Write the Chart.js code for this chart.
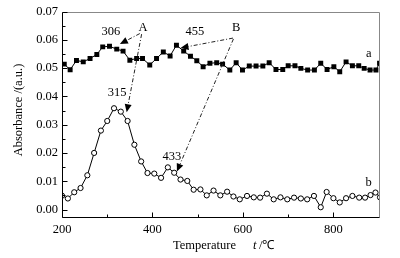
<!DOCTYPE html>
<html>
<head>
<meta charset="utf-8">
<script src="https://cdn.jsdelivr.net/npm/chart.js@4.4.1/dist/chart.umd.min.js"></script>
<style>
html, body { margin: 0; padding: 0; background: #fff; }
</style>
</head>
<body>
<canvas id="chart" width="400" height="258"></canvas>
<script>
// curve a (filled squares)
const temperatureA = [205, 218, 232, 247, 262, 277, 290, 305, 321, 335, 350, 365, 378, 394, 409, 424, 439, 453, 469, 484,
  498, 512, 527, 542, 555, 571, 585, 599, 614, 629, 644, 658, 673, 688, 700, 715, 728, 743, 758, 772,
  786, 801, 814, 828, 842, 856, 868, 881, 894, 902];
const absorbanceA = [0.0514, 0.0494, 0.0527, 0.0522, 0.0534, 0.0548, 0.0575, 0.0577, 0.0567, 0.0560, 0.0528, 0.0534, 0.0534, 0.0511, 0.0534, 0.0557, 0.0543, 0.0581, 0.0560, 0.0542,
  0.0526, 0.0505, 0.0517, 0.0519, 0.0514, 0.0493, 0.0519, 0.0493, 0.0507, 0.0507, 0.0507, 0.0519, 0.0495, 0.0495, 0.0508, 0.0508, 0.0499, 0.0493, 0.0493, 0.0517,
  0.0495, 0.0505, 0.0487, 0.0522, 0.0508, 0.0508, 0.0499, 0.0493, 0.0493, 0.0517];

// curve b (open circles)
const temperatureB = [200, 213, 227, 241, 256, 271, 286, 300, 315, 330, 345, 360, 375, 389, 404, 419, 434, 448, 462, 477,
  491, 506, 520, 535, 550, 565, 579, 593, 609, 624, 638, 653, 668, 683, 698, 713, 728, 742, 757, 772,
  785, 800, 814, 828, 842, 857, 870, 882, 893, 903];
const absorbanceB = [0.0049, 0.0039, 0.0061, 0.0076, 0.0121, 0.0200, 0.0279, 0.0313, 0.0358, 0.0346, 0.0313, 0.0229, 0.0170, 0.0129, 0.0127, 0.0112, 0.0149, 0.0130, 0.0106, 0.0101,
  0.0070, 0.0071, 0.0050, 0.0067, 0.0050, 0.0063, 0.0046, 0.0036, 0.0048, 0.0043, 0.0042, 0.0056, 0.0036, 0.0043, 0.0036, 0.0042, 0.0039, 0.0036, 0.0048, 0.0008,
  0.0062, 0.0040, 0.0025, 0.0040, 0.0048, 0.0042, 0.0042, 0.0051, 0.0060, 0.0043];

const xTicks = [200, 400, 600, 800];
const xMinorTicks = [300, 500, 700];
const yTicks = [0.00, 0.01, 0.02, 0.03, 0.04, 0.05, 0.06, 0.07];
const yMinorTicks = [0.005, 0.015, 0.025, 0.035, 0.045, 0.055, 0.065];

// peak labels and arrows, in data units
const notes = [
  { text: '306', x: 308, y: 0.0627 },
  { text: 'A', x: 379, y: 0.0641 },
  { text: '455', x: 494, y: 0.0627 },
  { text: 'B', x: 585, y: 0.0644 },
  { text: '315', x: 322, y: 0.0412 },
  { text: '433', x: 443, y: 0.0187 },
  { text: 'a', x: 878, y: 0.0552 },
  { text: 'b', x: 878, y: 0.0094 }
];
const arrows = [
  { from: [372, 0.0622], to: [328, 0.0585] },
  { from: [376, 0.0620], to: [343, 0.0344] },
  { from: [578, 0.0606], to: [462, 0.0571] },
  { from: [579, 0.0603], to: [454, 0.0134] }
];

const serif = '"Liberation Serif", "Times New Roman", serif';

function toPoints(xs, ys) {
  return xs.map((t, i) => ({ x: t, y: ys[i] }));
}

const decor = {
  id: 'decor',
  afterDraw(chart) {
    const { ctx, chartArea: a, scales: { x, y } } = chart;
    const L = Math.round(a.left) + 0.5, R = Math.round(a.right) - 0.5;
    const T = Math.round(a.top) + 0.5, B = Math.round(a.bottom) - 0.5;
    ctx.save();
    ctx.lineWidth = 1;
    // frame
    ctx.strokeStyle = '#888';
    ctx.beginPath();
    ctx.moveTo(L, T); ctx.lineTo(R, T); ctx.lineTo(R, B);
    ctx.stroke();
    ctx.strokeStyle = '#000';
    ctx.beginPath();
    ctx.moveTo(L, T); ctx.lineTo(L, B); ctx.lineTo(R, B);
    // inward ticks
    yTicks.forEach(v => { const p = Math.round(y.getPixelForValue(v)) + 0.5; ctx.moveTo(L, p); ctx.lineTo(L + 5, p); });
    yMinorTicks.forEach(v => { const p = Math.round(y.getPixelForValue(v)) + 0.5; ctx.moveTo(L, p); ctx.lineTo(L + 3, p); });
    xTicks.forEach(v => { const p = Math.round(x.getPixelForValue(v)) + 0.5; ctx.moveTo(p, B); ctx.lineTo(p, B - 5); });
    xMinorTicks.forEach(v => { const p = Math.round(x.getPixelForValue(v)) + 0.5; ctx.moveTo(p, B); ctx.lineTo(p, B - 3); });
    ctx.stroke();

    // arrows
    arrows.forEach(ar => {
      const x0 = x.getPixelForValue(ar.from[0]), y0 = y.getPixelForValue(ar.from[1]);
      const x1 = x.getPixelForValue(ar.to[0]), y1 = y.getPixelForValue(ar.to[1]);
      const ang = Math.atan2(y1 - y0, x1 - x0);
      const len = 8, half = 3.5;
      const bx = x1 - len * Math.cos(ang), by = y1 - len * Math.sin(ang);
      ctx.setLineDash([4, 2, 1, 2]);
      ctx.strokeStyle = '#222';
      ctx.beginPath();
      ctx.moveTo(x0, y0); ctx.lineTo(bx, by);
      ctx.stroke();
      ctx.setLineDash([]);
      ctx.fillStyle = '#000';
      ctx.beginPath();
      ctx.moveTo(x1, y1);
      ctx.lineTo(bx + half * Math.sin(ang), by - half * Math.cos(ang));
      ctx.lineTo(bx - half * Math.sin(ang), by + half * Math.cos(ang));
      ctx.closePath();
      ctx.fill();
    });

    // labels
    ctx.fillStyle = '#000';
    ctx.font = '12.5px ' + serif;
    ctx.textAlign = 'center';
    ctx.textBaseline = 'middle';
    notes.forEach(n => ctx.fillText(n.text, x.getPixelForValue(n.x), y.getPixelForValue(n.y)));

    // axis titles
    ctx.textAlign = 'left';
    ctx.textBaseline = 'alphabetic';
    ctx.fillText('Temperature', a.left + 111, 249);
    ctx.font = 'italic 12.5px ' + serif;
    ctx.fillText('t', a.left + 191, 249);
    ctx.font = '12.5px ' + serif;
    ctx.fillText('/℃', a.left + 197, 249);

    ctx.translate(19, 110);
    ctx.rotate(-Math.PI / 2);
    ctx.textAlign = 'center';
    ctx.textBaseline = 'middle';
    ctx.fillText('Absorbance /(a.u.)', 0, 0);
    ctx.restore();
  }
};

new Chart(document.getElementById('chart'), {
  type: 'line',
  data: {
    datasets: [{
      label: 'a',
      data: toPoints(temperatureA, absorbanceA),
      borderColor: '#000',
      borderWidth: 1,
      pointStyle: 'rect',
      pointRadius: 3.5,
      pointBackgroundColor: '#000',
      pointBorderColor: '#000',
      pointBorderWidth: 0,
      tension: 0
    }, {
      label: 'b',
      data: toPoints(temperatureB, absorbanceB),
      borderColor: '#000',
      borderWidth: 1,
      pointStyle: 'circle',
      pointRadius: 2.6,
      pointBackgroundColor: '#fff',
      pointBorderColor: '#000',
      pointBorderWidth: 1,
      tension: 0
    }]
  },
  options: {
    responsive: false,
    devicePixelRatio: 1,
    animation: false,
    layout: { padding: { top: 10, right: 20, bottom: 0, left: 0 } },
    plugins: {
      legend: { display: false },
      tooltip: { enabled: false }
    },
    scales: {
      x: {
        type: 'linear',
        min: 200,
        max: 903,
        grid: { display: false, drawTicks: false },
        border: { display: false },
        afterBuildTicks: s => { s.ticks = xTicks.map(v => ({ value: v })); },
        afterFit: s => { s.height = 40; },
        ticks: {
          padding: 4,
          color: '#000',
          maxRotation: 0,
          font: { family: serif, size: 12.5 },
          callback: v => String(v)
        }
      },
      y: {
        type: 'linear',
        min: -0.003,
        max: 0.07,
        grid: { display: false, drawTicks: false },
        border: { display: false },
        afterBuildTicks: s => { s.ticks = yTicks.map(v => ({ value: v })); },
        afterFit: s => { s.width = 62; },
        ticks: {
          padding: 4,
          color: '#000',
          font: { family: serif, size: 12.5 },
          callback: v => v.toFixed(2)
        }
      }
    }
  },
  plugins: [decor]
});
</script>
</body>
</html>
